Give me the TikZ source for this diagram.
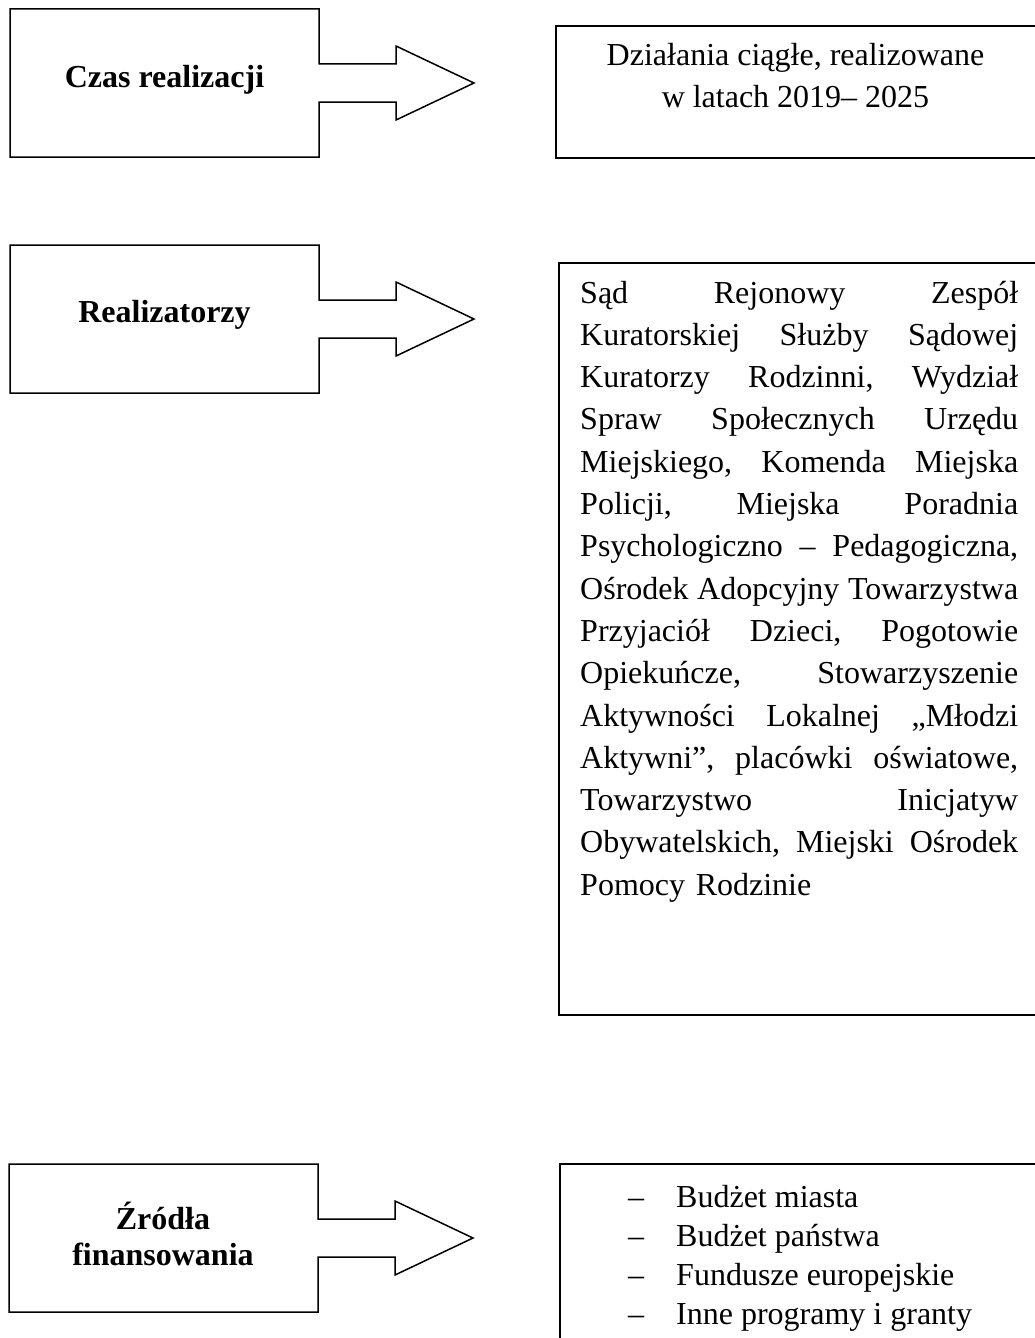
\documentclass[tikz,border=0pt]{standalone}
\usepackage{fontspec}
\setmainfont{Liberation Serif}
\newcommand\justline[1]{\leavevmode\hbox to 438pt{#1}}
\newcommand\dashitem[1]{\makebox[48pt][l]{–}#1}
\begin{document}
\begin{tikzpicture}[x=1pt,y=-1pt,
  outline/.style={draw=black, line width=1.5pt, line join=miter},
  headtext/.style={font=\fontsize{32}{36}\selectfont\bfseries, align=center, inner sep=0pt},
  bodytext/.style={font=\fontsize{32}{42.3}\selectfont, inner sep=0pt},
  calloutarrow/.pic={\draw[outline] (0,0) -- (309,0) -- (309,55) -- (386,55) -- (386,37) -- (464,74) -- (386,111) -- (386,93) -- (309,93) -- (309,148) -- (0,148) -- cycle;}]
\useasboundingbox (0,0) rectangle (1035,1338);
\clip (0,0) rectangle (1035,1338);

% left callout arrows
\pic at (10,9) {calloutarrow};
\pic at (10,245) {calloutarrow};
\pic at (9,1164) {calloutarrow};

\node[headtext, anchor=base] (czas) at (164.5,88) {Czas realizacji};
\node[headtext, anchor=base] (real) at (164.5,322) {Realizatorzy};
\node[headtext, anchor=base] (zrodla) at (163,1265) {Źródła\\finansowania};

% right boxes
\draw[outline] (556,26) rectangle (1045,158);
\node[bodytext, font=\fontsize{32}{42}\selectfont, align=center, anchor=base] (czasval) at (795.5,107) {Działania ciągłe, realizowane\\w latach 2019– 2025};

\draw[outline] (559,263) rectangle (1045,1015);
\node[bodytext, align=left, text width=438pt, anchor=base west] (realval) at (580,303) {%
\justline{Sąd\hfill Rejonowy\hfill Zespół}\\
\justline{Kuratorskiej\hfill Służby\hfill Sądowej}\\
\justline{Kuratorzy\hfill Rodzinni,\hfill Wydział}\\
\justline{Spraw\hfill Społecznych\hfill Urzędu}\\
\justline{Miejskiego,\hfill Komenda\hfill Miejska}\\
\justline{Policji,\hfill Miejska\hfill Poradnia}\\
\justline{Psychologiczno\hfill –\hfill Pedagogiczna,}\\
\justline{Ośrodek\hfill Adopcyjny\hfill Towarzystwa}\\
\justline{Przyjaciół\hfill Dzieci,\hfill Pogotowie}\\
\justline{Opiekuńcze,\hfill Stowarzyszenie}\\
\justline{Aktywności\hfill Lokalnej\hfill „Młodzi}\\
\justline{Aktywni”,\hfill placówki\hfill oświatowe,}\\
\justline{Towarzystwo\hfill Inicjatyw}\\
\justline{Obywatelskich,\hfill Miejski\hfill Ośrodek}\\
Pomocy Rodzinie};

\draw[outline] (560,1164) rectangle (1045,1350);
\node[bodytext, font=\fontsize{32}{39}\selectfont, align=left, anchor=base west] (zrodlaval) at (628,1324) {%
\dashitem{Budżet miasta}\\
\dashitem{Budżet państwa}\\
\dashitem{Fundusze europejskie}\\
\dashitem{Inne programy i granty}};
\end{tikzpicture}
\end{document}
